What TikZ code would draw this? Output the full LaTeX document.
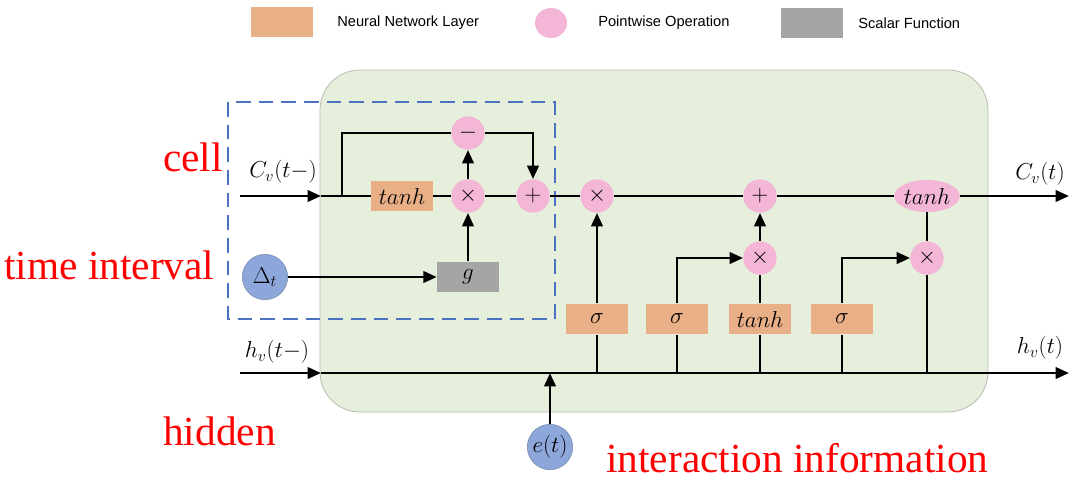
\documentclass[tikz,border=0pt]{standalone}
\usepackage{fontspec}
\setmainfont{Liberation Serif}
\newfontfamily\legfont{Liberation Sans}
\usetikzlibrary{arrows.meta,shapes.geometric}
\definecolor{cellgreen}{HTML}{E6EEDC}
\definecolor{cellborder}{HTML}{B8BDB2}
\definecolor{nnorange}{HTML}{E9AF86}
\definecolor{pwpink}{HTML}{F3B6D7}
\definecolor{scgrey}{HTML}{A5A5A5}
\definecolor{inblue}{HTML}{8EA7DA}
\definecolor{dashblue}{HTML}{4A72C1}
\tikzset{
  wire/.style={line width=2pt, black},
  arr/.style={wire, -{Triangle[length=10pt,width=8.5pt]}},
  nnbox/.style={fill=nnorange, minimum width=46.5pt, minimum height=23pt, inner sep=0pt, font=\fontsize{18}{18}\selectfont},
  scbox/.style={fill=scgrey, minimum width=46.5pt, minimum height=23pt, inner sep=0pt, font=\fontsize{18}{18}\selectfont},
  pw/.style={circle, fill=pwpink, minimum size=25pt, inner sep=0pt, font=\fontsize{16}{16}\selectfont},
  pwell/.style={ellipse, fill=pwpink, minimum width=47pt, minimum height=24pt, inner sep=0pt, font=\fontsize{18}{18}\selectfont},
  inp/.style={circle, fill=inblue, draw=inblue!80!black, line width=0.4pt, minimum size=34pt, inner sep=0pt, font=\fontsize{17}{17}\selectfont},
  lab/.style={font=\fontsize{18}{18}\selectfont},
  redlab/.style={text=red, font=\fontsize{31}{31}\selectfont, inner sep=0pt},
  legtxt/.style={font=\legfont\fontsize{11}{12}\selectfont, anchor=west, inner sep=0pt}
}
\begin{document}
\begin{tikzpicture}[x=0.75pt,y=-0.75pt]
\useasboundingbox (0,0) rectangle (1075,480);
% legend
\node[fill=nnorange, minimum width=47pt, minimum height=22.5pt, inner sep=0pt] (lg1) at (282,22) {};
\node[legtxt] (lt1) at (337,23) {Neural Network Layer};
\node[ellipse, fill=pwpink, minimum width=24pt, minimum height=22.5pt, inner sep=0pt] (lg2) at (551,23) {};
\node[legtxt] (lt2) at (598,23) {Pointwise Operation};
\node[fill=scgrey, minimum width=46.5pt, minimum height=22.5pt, inner sep=0pt] (lg3) at (812,23) {};
\node[legtxt] (lt3) at (858,23) {Scalar Function};
% cell background
\draw[fill=cellgreen, draw=cellborder, line width=0.6pt, rounded corners=30pt] (320,70) rectangle (988,412);
% dashed box
\draw[dashblue, line width=2pt, dash pattern=on 11pt off 6pt] (228,102) rectangle (555,319);
% red labels
\node[redlab, anchor=west] (rcell) at (163,157) {cell};
\node[redlab, anchor=west] (rtime) at (4,265) {time interval};
\node[redlab, anchor=west] (rhid) at (163,431) {hidden};
\node[redlab, anchor=west] (rint) at (606,458) {interaction information};
% nodes
\node[nnbox] (tb1) at (402,196) {$tanh$};
\node[pw] (m1) at (468,196) {$\times$};
\node[pw] (mi) at (468,133) {$-$};
\node[pw] (p1) at (533,196) {$+$};
\node[scbox] (g) at (468,277) {$g$};
\node[inp] (dt) at (265,277) {$\Delta_t$};
\node[pw] (m2) at (597,196) {$\times$};
\node[pw] (p2) at (760,196) {$+$};
\node[pwell] (th) at (927,196) {$tanh$};
\node[pw] (m3) at (760,258) {$\times$};
\node[pw] (m4) at (927,258) {$\times$};
\node[nnbox] (s1) at (597,319) {$\sigma$};
\node[nnbox] (s2) at (677,319) {$\sigma$};
\node[nnbox] (tb2) at (760,319) {$tanh$};
\node[nnbox] (s3) at (842,319) {$\sigma$};
\node[inp] (et) at (550,447) {$e(t)$};
% coordinates
\coordinate (cin) at (240,196);
\coordinate (cmid) at (321,196);
\coordinate (br) at (342,196);
\coordinate (cout) at (1069,196);
\coordinate (hin) at (240,373);
\coordinate (hmid) at (321,373);
\coordinate (hout) at (1069,373);
% labels
\node[lab] (lcin) at (283,172) {$C_v(t{-})$};
\node[lab] (lhin) at (277,352) {$h_v(t{-})$};
\node[lab] (lcout) at (1040,174) {$C_v(t)$};
\node[lab] (lhout) at (1040,348) {$h_v(t)$};
% cell line
\draw[arr] (cin) -- (cmid);
\draw[wire] (cmid) -- (tb1) -- (m1) -- (p1) -- (m2) -- (p2) -- (th);
\draw[arr] (th) -- (cout);
\draw[wire] (br) |- (mi);
\draw[arr] (mi) -| (p1);
\draw[arr] (m1) -- (mi);
\draw[arr] (g) -- (m1);
\draw[arr] (dt) -- (g);
% hidden line
\draw[arr] (hin) -- (hmid);
\draw[arr] (hmid) -- (hout);
\draw[wire] (s1.south) -- (s1.south |- hout);
\draw[wire] (s2.south) -- (s2.south |- hout);
\draw[wire] (tb2.south) -- (tb2.south |- hout);
\draw[wire] (s3.south) -- (s3.south |- hout);
\draw[wire] (m4.south) -- (m4.south |- hout);
\draw[arr] (s1) -- (m2);
\draw[arr] (s2.north) |- (m3);
\draw[wire] (tb2) -- (m3);
\draw[arr] (m3) -- (p2);
\draw[arr] (s3.north) |- (m4);
\draw[wire] (m4) -- (th);
\draw[arr] (et) -- (et |- hout);
\end{tikzpicture}
\end{document}
